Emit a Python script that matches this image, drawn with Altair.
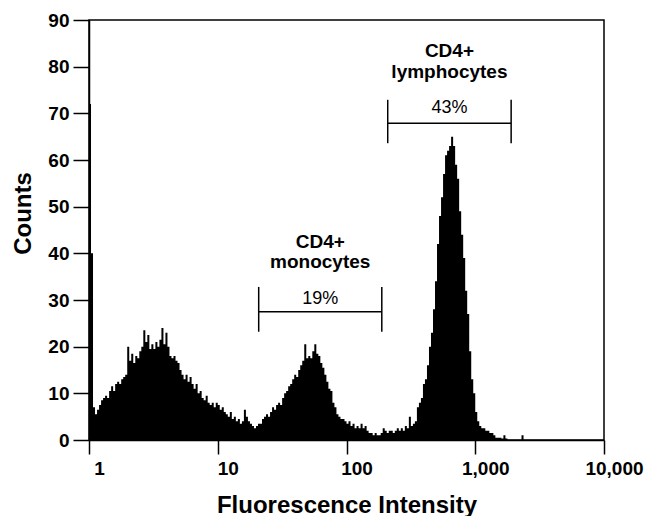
import altair as alt
import pandas as pd

# ---------------- data ----------------
CHANNELS_PER_DECADE = 64          # log amplifier: 4 decades, 256 channels

# counts per channel, channel 0 = fluorescence 1
counts = [
    72, 40, 7, 5.5, 6.5, 7.5, 8.5, 9, 9.5, 9,
    10.5, 11.5, 10.5, 12, 12.5, 12, 13, 13.5, 14, 20,
    17, 18.5, 16.5, 18, 17.5, 19, 20, 23.5, 21, 22.5,
    19.5, 20.5, 19.5, 21, 20, 21.5, 24, 20.5, 23, 20,
    18, 17.5, 18, 17, 16.5, 15, 14, 13, 14, 12.5,
    13.5, 12, 11, 12, 10, 10.5, 9, 8.5, 9.5, 8,
    7.5, 8, 7, 8, 7.5, 6.5, 7, 6, 5.5, 5,
    6, 4.5, 5, 4, 4.5, 3.5, 4, 6.5, 5, 4,
    3.5, 3, 2.5, 3, 3.5, 3.5, 4.5, 5, 5.5, 5,
    6, 7, 6.5, 7.5, 8, 7.5, 9, 10, 10.5, 11.5,
    12, 13, 14, 13.5, 15, 16, 17, 20.5, 17.5, 18,
    17.5, 19, 20.5, 18.5, 18, 16.5, 15.5, 14, 12.5, 11,
    10.5, 8, 7, 5.5, 5, 4.5, 4.5, 4, 3.5, 4,
    3, 3.5, 2.5, 3, 2.5, 3.5, 2.5, 3, 2, 1.5,
    1.5, 1, 1.5, 1, 1, 1.5, 2.5, 2, 1.5, 2,
    2, 1.5, 2, 2.5, 2, 2.5, 2, 3, 2.5, 5,
    3, 3.5, 4, 7, 8, 9, 12, 13, 16, 20,
    23, 28, 34, 42, 48, 52, 57, 61, 62, 63,
    65, 63, 59, 56, 49, 44, 39, 32, 27, 19,
    13, 10, 6, 4, 3, 2.5, 2.5, 2, 2, 1.5,
    1.5, 1, 0.5, 0.5, 0.5, 0.3, 1, 0.3, 0, 0,
    0, 0, 0, 0, 0, 1, 0,
]

x_tick_values = [1, 10, 100, 1000, 10000]
x_tick_labels = ["1", "10", "100", "1,000", "10,000"]
y_tick_values = [0, 10, 20, 30, 40, 50, 60, 70, 80, 90]

# gates (brackets) and their annotations
gate_lo = [20.8, 209]
gate_hi = [188, 1900]
gate_y = [27.5, 67.9]
gate_cap_lo = [23.2, 63.6]
gate_cap_hi = [32.8, 72.9]
gate_pct = ["19%", "43%"]
gate_line1 = ["CD4+", "CD4+"]
gate_line2 = ["monocytes", "lymphocytes"]
pct_y = [29.2, 70.1]
line2_y = [36.9, 77.6]
line1_y = [41.1, 82.1]

FONT = "Liberation Sans"

# ---------------- tables ----------------
n = len(counts)
hist = pd.DataFrame({
    "fl": [10 ** (i / CHANNELS_PER_DECADE) for i in range(n + 1)],
    "count": counts + [0],
})

gates = pd.DataFrame({
    "lo": gate_lo, "hi": gate_hi, "y": gate_y,
    "cap_lo": gate_cap_lo, "cap_hi": gate_cap_hi,
})
gates["mid"] = (gates["lo"] * gates["hi"]) ** 0.5

caps = pd.DataFrame({
    "x": gate_lo + gate_hi,
    "y1": gate_cap_lo + gate_cap_lo,
    "y2": gate_cap_hi + gate_cap_hi,
})

texts_bold = pd.DataFrame({
    "x": list(gates["mid"]) * 2,
    "y": line1_y + line2_y,
    "t": gate_line1 + gate_line2,
})
texts_pct = pd.DataFrame({"x": list(gates["mid"]), "y": pct_y, "t": gate_pct})

label_expr = " : ".join(
    f"datum.value == {v} ? '{l}'" for v, l in zip(x_tick_values, x_tick_labels)
) + " : ''"

xscale = alt.Scale(type="log", domain=[1, 10000])
yscale = alt.Scale(domain=[0, 90])

x_axis = alt.Axis(
    values=x_tick_values, labelExpr=label_expr, grid=False,
    tickSize=14, tickWidth=1.5, tickColor="black",
    domainWidth=1.5, domainColor="black",
    labelFont=FONT, labelFontWeight="bold", labelFontSize=19, labelColor="black",
    labelPadding=5, labelOffset=10, labelFlush=False, labelOverlap=False,
    title="Fluorescence Intensity", titleFont=FONT, titleFontWeight="bold",
    titleFontSize=24, titleColor="black", titleBaseline="alphabetic", titleY=72,
)
y_axis = alt.Axis(
    values=y_tick_values, grid=False,
    tickSize=16, tickWidth=1.5, tickColor="black",
    domainWidth=1.5, domainColor="black",
    labelFont=FONT, labelFontWeight="bold", labelFontSize=19, labelColor="black",
    labelPadding=4,
    title="Counts", titleFont=FONT, titleFontWeight="bold", titleFontSize=24,
    titleColor="black", titleAngle=270, titleAlign="center",
    titleBaseline="alphabetic", titleX=-59, titleY=193,
)

histo = alt.Chart(hist).mark_area(interpolate="step-after", color="black").encode(
    x=alt.X("fl:Q", scale=xscale, axis=x_axis),
    y=alt.Y("count:Q", scale=yscale, axis=y_axis),
)

hlines = alt.Chart(gates).mark_rule(color="black", strokeWidth=1.5).encode(
    x=alt.X("lo:Q", scale=xscale), x2="hi:Q", y=alt.Y("y:Q", scale=yscale),
)
vlines = alt.Chart(caps).mark_rule(color="black", strokeWidth=1.5).encode(
    x=alt.X("x:Q", scale=xscale), y=alt.Y("y1:Q", scale=yscale), y2="y2:Q",
)
bold_text = alt.Chart(texts_bold).mark_text(
    font=FONT, fontWeight="bold", fontSize=19, color="black",
    align="center", baseline="alphabetic",
).encode(x=alt.X("x:Q", scale=xscale), y=alt.Y("y:Q", scale=yscale), text="t:N")
pct_text = alt.Chart(texts_pct).mark_text(
    font=FONT, fontSize=18, color="black", align="center", baseline="alphabetic",
).encode(x=alt.X("x:Q", scale=xscale), y=alt.Y("y:Q", scale=yscale), text="t:N")

chart = alt.layer(histo, hlines, vlines, bold_text, pct_text).properties(
    width=515, height=420,
    autosize=alt.AutoSizeParams(type="none"),
    padding={"left": 89, "top": 20, "right": 45, "bottom": 76},
    background="white",
).configure_view(stroke="black", strokeWidth=1.5)

chart.save("out.html", embed_options={"renderer": "svg", "actions": False})
